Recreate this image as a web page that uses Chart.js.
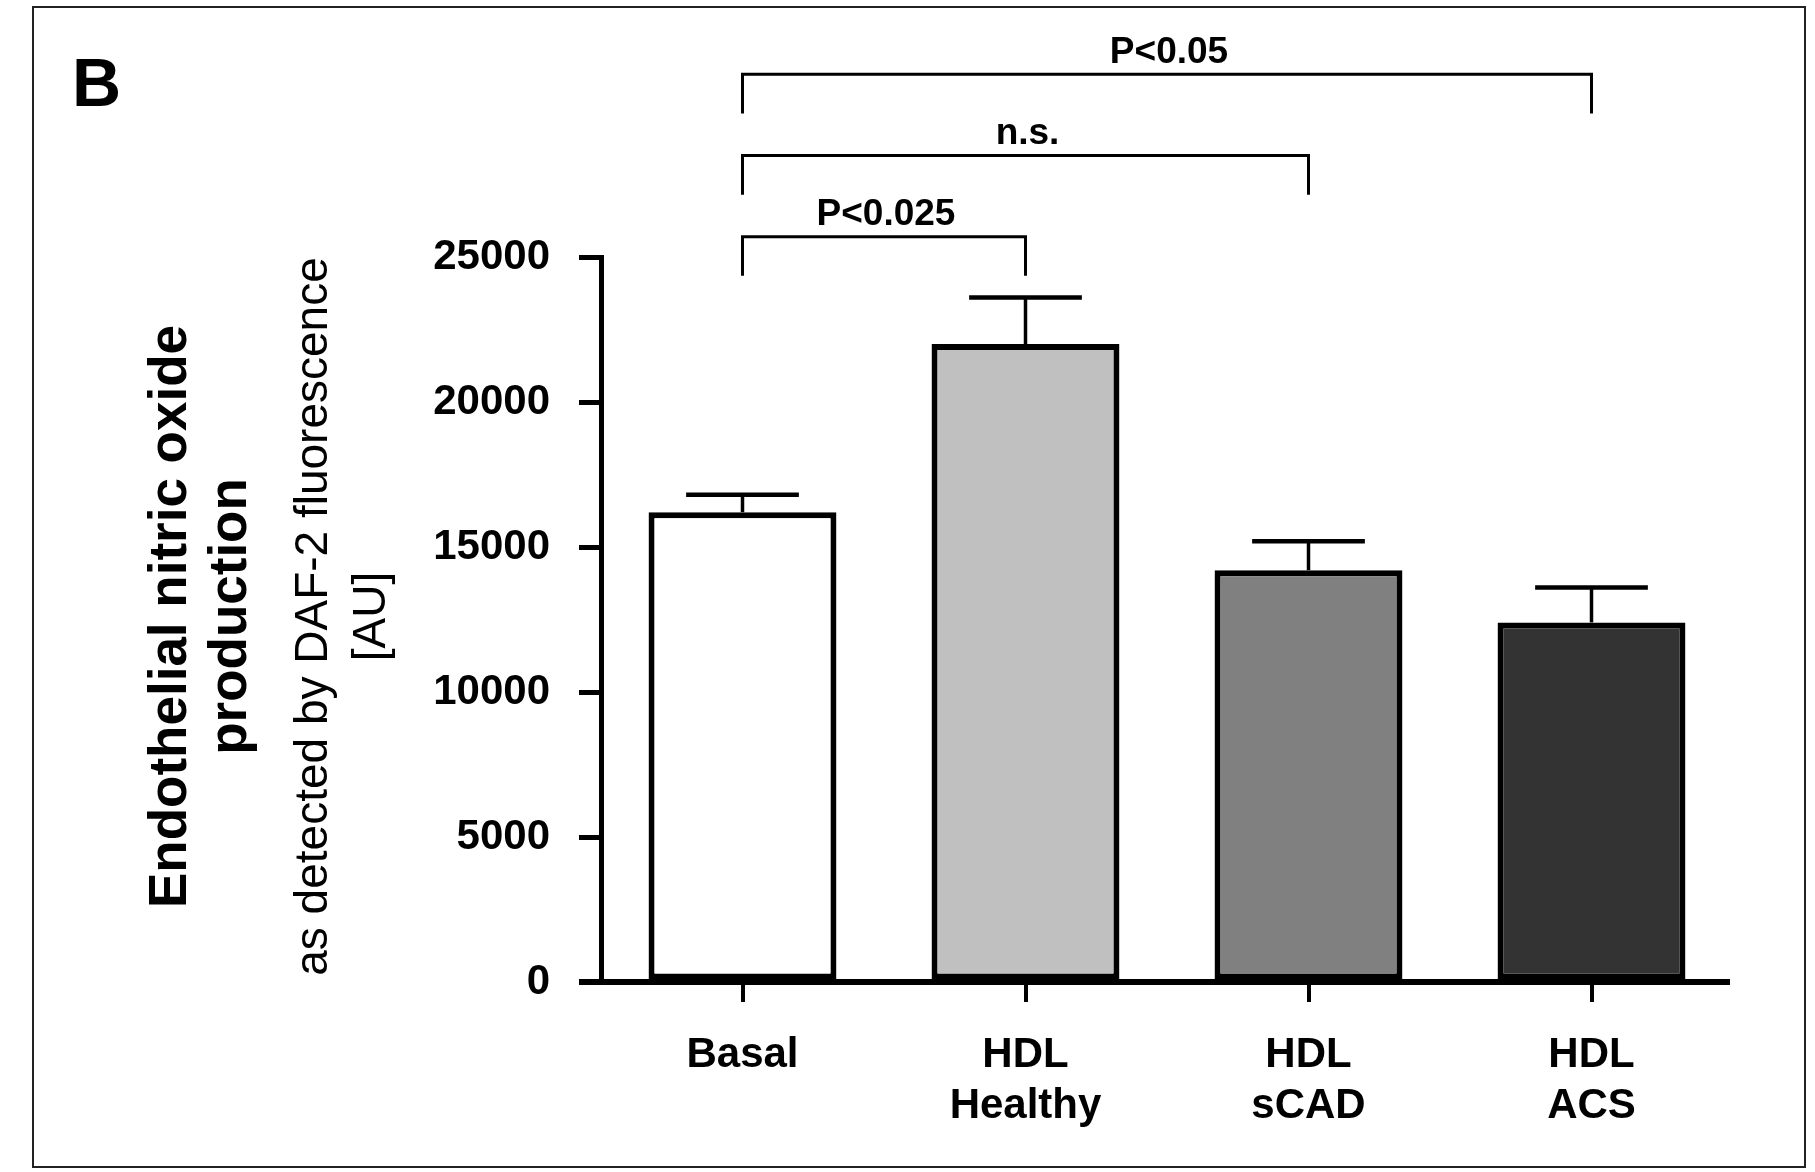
<!DOCTYPE html>
<html>
<head>
<meta charset="utf-8">
<script src="https://cdn.jsdelivr.net/npm/chart.js@4.4.0/dist/chart.umd.min.js"></script>
<style>
  html, body { margin: 0; padding: 0; background: #fff; }
  #wrap { position: relative; width: 1815px; height: 1172px; }
  #frame { position: absolute; left: 32px; top: 6px; width: 1774px; height: 1162px; border: 2px solid #222; box-sizing: border-box; pointer-events: none; }
  canvas { position: absolute; left: 0; top: 0; }
</style>
</head>
<body>
<div id="wrap">
  <canvas id="chart" width="1815" height="1172"></canvas>
  <div id="frame"></div>
</div>
<script>
const categories = [['Basal'], ['HDL', 'Healthy'], ['HDL', 'sCAD'], ['HDL', 'ACS']];
const means = [16200, 22000, 14200, 12400];
const sem = [600, 1600, 1000, 1200];
const barColors = ['#ffffff', '#c0c0c0', '#808080', '#333333'];
const yTicks = [0, 5000, 10000, 15000, 20000, 25000];

// significance brackets: pair of bars, label, height in data units
const sigPairs = [[0, 1], [0, 2], [0, 3]];
const sigLabels = ['P<0.025', 'n.s.', 'P<0.05'];
const sigLevels = [25700, 28500, 31300];
const sigDrop = 1350;

const FONT = '"Liberation Sans", Arial, Helvetica, sans-serif';

function vtext(ctx, str, xBase, yc, font) {
    ctx.save();
    ctx.translate(xBase, yc);
    ctx.rotate(-Math.PI / 2);
    ctx.font = font;
    ctx.textAlign = 'center';
    ctx.textBaseline = 'alphabetic';
    ctx.fillText(str, 0, 0);
    ctx.restore();
}

const extras = {
    id: 'extras',
    afterDatasetsDraw(chart) {
        const ctx = chart.ctx;
        const x = chart.scales.x, y = chart.scales.y;
        const area = chart.chartArea;
        const meta = chart.getDatasetMeta(0);
        ctx.save();
        ctx.strokeStyle = '#000';
        ctx.fillStyle = '#000';
        ctx.lineCap = 'butt';

        // error bars (SEM, upward only)
        meta.data.forEach((bar, i) => {
            const top = y.getPixelForValue(means[i] + sem[i]);
            const half = bar.width * 0.3;
            ctx.lineWidth = 3.5;
            ctx.beginPath();
            ctx.moveTo(bar.x, bar.y);
            ctx.lineTo(bar.x, top);
            ctx.stroke();
            ctx.lineWidth = 4.5;
            ctx.beginPath();
            ctx.moveTo(bar.x - half, top);
            ctx.lineTo(bar.x + half, top);
            ctx.stroke();
        });

        // x axis line, running a little past the y axis
        const y0 = y.getPixelForValue(0);
        ctx.lineWidth = 6;
        ctx.beginPath();
        ctx.moveTo(area.left - 22, y0);
        ctx.lineTo(area.right - 3, y0);
        ctx.stroke();

        // significance brackets
        ctx.lineWidth = 3;
        ctx.font = 'bold 37px ' + FONT;
        ctx.textAlign = 'center';
        ctx.textBaseline = 'middle';
        sigPairs.forEach((p, i) => {
            const xa = x.getPixelForValue(p[0]);
            const xb = x.getPixelForValue(p[1]);
            const yl = y.getPixelForValue(sigLevels[i]);
            const yd = y.getPixelForValue(sigLevels[i] - sigDrop);
            ctx.beginPath();
            ctx.moveTo(xa, yd);
            ctx.lineTo(xa, yl);
            ctx.lineTo(xb, yl);
            ctx.lineTo(xb, yd);
            ctx.stroke();
            ctx.fillText(sigLabels[i], (xa + xb) / 2 + 2, yl - 22);
        });

        // panel letter
        ctx.font = 'bold 68px ' + FONT;
        ctx.textAlign = 'left';
        ctx.textBaseline = 'alphabetic';
        ctx.fillText('B', 72, 106);

        // y axis title
        const yc = (area.top + area.bottom) / 2 - 3;
        vtext(ctx, 'Endothelial nitric oxide', 186, yc, 'bold 53px ' + FONT);
        vtext(ctx, 'production', 246, yc, 'bold 53px ' + FONT);
        vtext(ctx, 'as detected by DAF-2 fluorescence', 327, yc, '46px ' + FONT);
        vtext(ctx, '[AU]', 385, yc, '46px ' + FONT);
        ctx.restore();
    }
};

const ctx = document.getElementById('chart').getContext('2d');
new Chart(ctx, {
    type: 'bar',
    data: {
        labels: categories,
        datasets: [{
            data: means,
            backgroundColor: barColors,
            borderColor: '#000',
            borderWidth: 6,
            borderSkipped: false,
            categoryPercentage: 1,
            barPercentage: 0.664
        }]
    },
    options: {
        responsive: false,
        devicePixelRatio: 1,
        animation: false,
        layout: { padding: { top: 257, right: 82, left: 0, bottom: 0 } },
        plugins: {
            legend: { display: false },
            tooltip: { enabled: false }
        },
        scales: {
            x: {
                afterFit: s => { s.height = 190; },
                grid: {
                    display: true,
                    drawOnChartArea: false,
                    offset: false,
                    tickLength: 20,
                    lineWidth: 4,
                    color: '#000'
                },
                border: { display: false },
                ticks: {
                    color: '#000',
                    padding: 28,
                    font: { family: FONT, size: 42, weight: 'bold', lineHeight: 1.22 }
                }
            },
            y: {
                min: 0,
                max: 25000,
                afterFit: s => { s.width = 601; },
                afterBuildTicks: s => { s.ticks = yTicks.map(v => ({ value: v })); },
                grid: {
                    display: true,
                    drawOnChartArea: false,
                    tickLength: 22,
                    lineWidth: 5,
                    color: '#000'
                },
                border: { display: true, width: 5, color: '#000' },
                ticks: {
                    color: '#000',
                    padding: 29,
                    callback: v => String(v),
                    font: { family: FONT, size: 42, weight: 'bold' }
                }
            }
        }
    },
    plugins: [extras]
});
</script>
</body>
</html>
